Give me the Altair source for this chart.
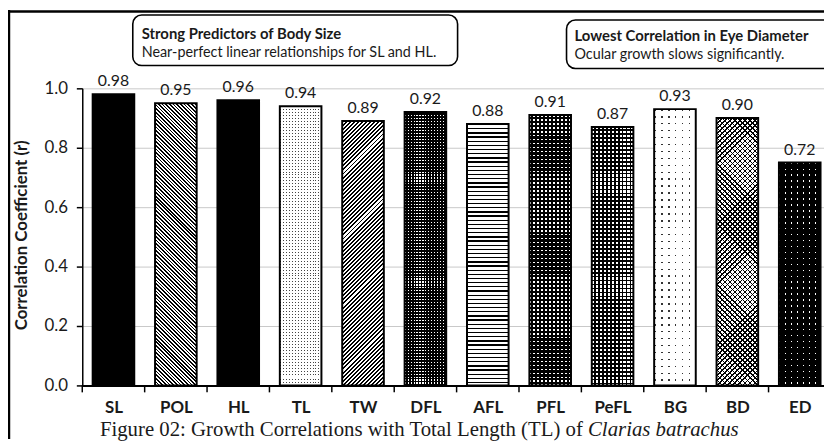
import math
import altair as alt
import pandas as pd

# ---------------- data ----------------
cats = ["SL", "POL", "HL", "TL", "TW", "DFL", "AFL", "PFL", "PeFL", "BG", "BD", "ED"]
r_labels = [0.98, 0.95, 0.96, 0.94, 0.89, 0.92, 0.88, 0.91, 0.87, 0.93, 0.90, 0.72]
bar_heights = [0.98, 0.95, 0.96, 0.94, 0.89, 0.92, 0.88, 0.91, 0.87, 0.93, 0.90, 0.75]
y_ticks = [0.0, 0.2, 0.4, 0.6, 0.8, 1.0]
y_title = "Correlation Coefficient (r)"
note1 = ["Strong Predictors of Body Size", "Near-perfect linear relationships for SL and HL."]
note2 = ["Lowest Correlation in Eye Diameter", "Ocular growth slows significantly."]
caption_regular = "Figure 02: Growth Correlations with Total Length (TL) of"
caption_italic = "Clarias batrachus"

# ---------------- styles ----------------
patterns = ["solid", "bslash", "solid", "finedots", "slash", "darkdots",
            "waves", "darkdots2", "checker", "sparsedots", "crosshatch", "blackdots"]
base_colors = {"solid": "black", "bslash": "white", "finedots": "white", "slash": "white",
               "darkdots": "black", "waves": "white", "darkdots2": "black", "checker": "black",
               "sparsedots": "white", "crosshatch": "white", "blackdots": "black"}
STEP = 63.0            # px per category
HALF = 1.0 / 3.0       # half bar width in category units
BAR_W = STEP * 2 * HALF
PLOT_W = 749           # visible plot width (chart is cut at the right edge)
PLOT_H = 300.0
CLEAR = "rgba(0,0,0,0)"
FONT = "Lato"
TXT = "#1a1a1a"


def grad(direction, w, h, period, line, on, off):
    if direction == "h":
        g = {"x1": 0, "y1": 0, "x2": 0, "y2": 1}
        L = h
    elif direction == "v":
        g = {"x1": 0, "y1": 0, "x2": 1, "y2": 0}
        L = w
    else:
        k = (w + h) / (w * w + h * h)
        L = (w + h) / math.sqrt(2)
        if direction == "/":
            g = {"x1": 0, "y1": 0, "x2": k * w, "y2": k * h}
        else:
            g = {"x1": 0, "y1": 1, "x2": k * w, "y2": 1 - k * h}
    pt = period / L
    lt = line / L
    stops = []
    n = int(math.ceil(1.0 / pt))
    for i in range(n):
        a = i * pt
        b = min(a + lt, 1.0)
        c = min(a + pt, 1.0)
        stops += [(a, on), (b, on), (b, off), (c, off)]
    return {"gradient": "linear", **g,
            "stops": [{"offset": round(o, 5), "color": col} for o, col in stops]}


def dots(w, h, period, size, dot, bg):
    return [grad("v", w, h, period, size, dot, CLEAR),
            grad("h", w, h, period, size, CLEAR, bg)]


def overlays(p, w, h):
    if p == "bslash":
        return [grad("\\", w, h, 2.6, 1.2, "black", CLEAR)]
    if p == "slash":
        return [grad("/", w, h, 2.9, 1.4, "black", CLEAR)]
    if p == "finedots":
        return dots(w, h, 3.0, 1.0, "#444", "white")
    if p == "darkdots":
        return dots(w, h, 3.0, 1.1, "white", "black")
    if p == "waves":
        return [grad("h", w, h, 4.2, 1.3, "black", CLEAR)]
    if p == "darkdots2":
        return dots(w, h, 4.0, 1.6, "white", "black")
    if p == "checker":
        return dots(w, h, 4.0, 2.2, "white", "black")
    if p == "sparsedots":
        return dots(w, h, 7.0, 1.5, "#333", "white")
    if p == "crosshatch":
        return [grad("/", w, h, 3.6, 1.1, "black", CLEAR),
                grad("\\", w, h, 3.6, 1.1, "black", CLEAR)]
    if p == "blackdots":
        return dots(w, h, 6.0, 1.5, "white", "black")
    return []


df = pd.DataFrame({"k": cats, "i": list(range(len(cats))), "v": bar_heights,
                   "r": r_labels, "base": [base_colors[p] for p in patterns]})

label_expr = "[" + ",".join("'%s'" % c for c in cats) + "][round(datum.value)]"
xs = alt.Scale(domain=[-0.5, -0.5 + PLOT_W / STEP], nice=False, zero=False)
x_axis = alt.Axis(title=None, values=list(range(len(cats))), labelExpr=label_expr,
                  labelAngle=0, ticks=False, grid=False, labelFlush=False,
                  labelOverlap=False, labelBound=False,
                  domainColor="black", domainWidth=2,
                  labelFont=FONT, labelFontSize=17, labelFontWeight="bold",
                  labelColor=TXT, labelPadding=14)
Y = alt.Y("v:Q", scale=alt.Scale(domain=[0, 1], nice=False),
          axis=alt.Axis(title=y_title, values=y_ticks, format=".1f",
                        domainColor="black", domainWidth=1.5,
                        tickColor="black", tickWidth=1.5, tickSize=6,
                        labelFont=FONT, labelFontSize=17, labelColor=TXT, labelPadding=9,
                        gridColor="#c8c8c8", gridWidth=1,
                        titleFont=FONT, titleFontSize=17, titleFontWeight="bold",
                        titleColor=TXT, titleAngle=270, titleAlign="center",
                        titleBaseline="middle", titleX=-61, titleY=148))


def bars(data_chart):
    return data_chart.transform_calculate(
        x0="datum.i - %f" % HALF, x1="datum.i + %f" % HALF)


def bar_enc(ch):
    return ch.encode(x=alt.X("x0:Q", scale=xs, axis=x_axis), x2="x1:Q",
                     y=Y, y2=alt.datum(0))


layers = []
base = bar_enc(bars(alt.Chart(df)).mark_bar()).encode(
    fill=alt.Fill("base:N", scale=None))
layers.append(base)

for cat, p, hv in zip(cats, patterns, bar_heights):
    for g in overlays(p, BAR_W, hv * PLOT_H):
        layers.append(bar_enc(
            bars(alt.Chart(df).transform_filter(alt.datum.k == cat)).mark_bar(fill=g)))

outline = bar_enc(bars(alt.Chart(df)).mark_bar(fill="transparent", stroke="black",
                                                strokeWidth=2))
layers.append(outline)

values = alt.Chart(df).mark_text(dy=-8, baseline="alphabetic", font=FONT, fontSize=16,
                                 color=TXT).encode(
    x=alt.X("i:Q", scale=xs, axis=x_axis), y=Y, text=alt.Text("r:Q", format=".2f"))
layers.append(values)

xticks = alt.Chart(df).transform_calculate(xt="datum.i - 0.5").mark_rule(
    color="black", strokeWidth=1.5).encode(
    x=alt.X("xt:Q", scale=xs, axis=x_axis),
    y=alt.value(PLOT_H), y2=alt.value(PLOT_H + 7))
layers.append(xticks)

one = pd.DataFrame({"a": [0]})


def box(x1, x2, y1, y2):
    return alt.Chart(one).mark_rect(cornerRadius=9, fill="white", stroke="black",
                                    strokeWidth=1.6).encode(
        x=alt.value(x1), x2=alt.value(x2), y=alt.value(y1), y2=alt.value(y2))


def label(txt, x, y, weight="normal", size=15, font=FONT, style="normal", align="left"):
    return alt.Chart(one).mark_text(text=txt, align=align, baseline="alphabetic",
                                    font=font, fontSize=size, fontWeight=weight,
                                    fontStyle=style, color=TXT).encode(
        x=alt.value(x), y=alt.value(y))


layers += [
    box(51, 379, -74, -23),
    label(note1[0], 60, -50, "bold"),
    label(note1[1], 60, -32, size=14.5),
    box(489, 760, -69, -20),
    label(note2[0], 497, -48, "bold"),
    label(note2[1], 497, -30, size=14.5),
    label(caption_regular, 505.5, 351, size=21, font="Liberation Serif", align="right"),
    label(caption_italic, 510.7, 351, size=21, font="Liberation Serif", style="italic"),
    alt.Chart(one).mark_rule(color="black", strokeWidth=2.5).encode(
        x=alt.value(-74), y=alt.value(-79), y2=alt.value(354)),
    alt.Chart(one).mark_rule(color="black", strokeWidth=2.5).encode(
        x=alt.value(-75), x2=alt.value(PLOT_W), y=alt.value(-77.5)),
]

chart = alt.layer(*layers).properties(
    width=PLOT_W, height=PLOT_H,
    padding={"left": 75, "top": 79, "right": 0, "bottom": 54},
    autosize=alt.AutoSizeParams(type="none"),
    background="white",
).configure_view(strokeWidth=0)

chart.save("out.html", embed_options={"renderer": "svg", "actions": False})
